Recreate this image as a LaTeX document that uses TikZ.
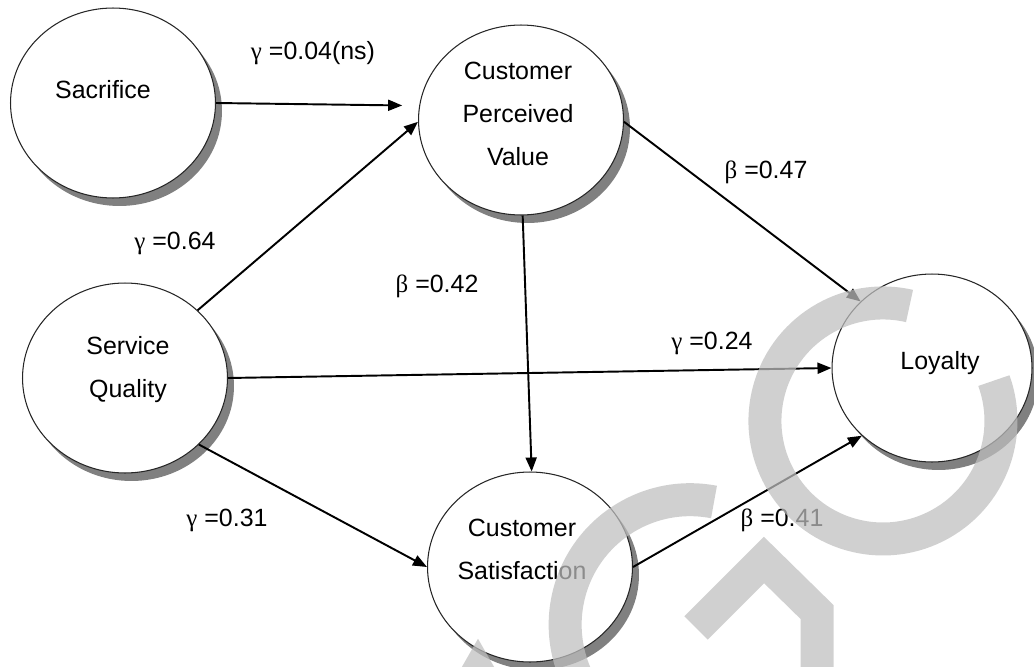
\documentclass[tikz,border=0pt]{standalone}
\usepackage{fontspec}
\setmainfont{Liberation Sans}
\newfontfamily\grk{Liberation Serif}
\usetikzlibrary{shapes.geometric,shadows,arrows.meta}

\tikzset{
	latent/.style={ellipse, draw=black!85, line width=0.6pt, fill=white, minimum width=4.1cm, minimum height=3.8cm, inner sep=0pt,
		drop shadow={shadow xshift=0.13cm, shadow yshift=-0.16cm, fill=black!50, opacity=1}},
	txt/.style={align=center, font=\fontsize{14.2}{24.5}\selectfont, inner sep=0pt},
	coef/.style={font=\fontsize{14.2}{17}\selectfont, inner sep=0pt},
	link/.style={line width=1.1pt, -{Triangle[length=0.28cm,width=0.22cm]}},
	wmark/.style={draw=black!25, line width=0.66cm, opacity=0.73}
}

\begin{document}
\begin{tikzpicture}[x=0.02cm, y=-0.02cm]
	\useasboundingbox (0,0) rectangle (1034,666);
	\clip (0,0) rectangle (1034,666);

	\node[latent] (sac) at (113,103) {};
	\node[latent] (cpv) at (521,120) {};
	\node[latent] (sq) at (125,378) {};
	\node[latent] (cs) at (530,567) {};
	\node[latent, minimum width=4.0cm, minimum height=3.76cm] (loy) at (932,368) {};

	\node[txt] (sac-t) at (103,90) {Sacrifice};
	\node[txt] (cpv-t) at (518,114) {Customer\\Perceived\\Value};
	\node[txt] (sq-t) at (128,370) {Service\\Quality};
	\node[txt] (cs-t) at (522,549) {Customer\\Satisfaction};
	\node[txt] (loy-t) at (940,363) {Loyalty};

	\node[coef] (g-sac) at (313,53) {{\grk γ} =0.04(ns)};
	\node[coef] (g-sq-cpv) at (175,243) {{\grk γ} =0.64};
	\node[coef] (b-cpv-cs) at (437,286) {{\grk β} =0.42};
	\node[coef] (b-cpv-loy) at (766,172) {{\grk β} =0.47};
	\node[coef] (g-sq-loy) at (712,343) {{\grk γ} =0.24};
	\node[coef] (g-sq-cs) at (227,520) {{\grk γ} =0.31};
	\node[coef] (b-cs-loy) at (782,520) {{\grk β} =0.41};

	\path [link]
	(sac.east) edge[shorten >=0.34cm] (cpv.172)
	(sq.43) edge (cpv.181)
	(cpv.271) edge (cs.89)
	(cpv.359) edge (loy.137)
	(sq.east) edge (loy.west)
	(sq.318) edge (cs.west)
	(cs.east) edge (loy.224);

	% watermark
	\draw[wmark] (909.5,306) arc[start angle=-77, end angle=-380, radius=118];
	\draw[wmark] (714,502) arc[start angle=-79, end angle=-215, radius=125];
	\draw[wmark] (696,628) -- (764,560) -- (817,612) -- (817,700);
	\draw[wmark] (458,707) -- (478,672) -- (498,707);
\end{tikzpicture}
\end{document}
